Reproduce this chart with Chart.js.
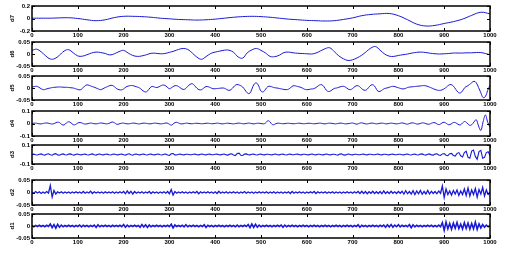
<!DOCTYPE html>
<html>
<head>
<meta charset="utf-8">
<script src="https://cdn.jsdelivr.net/npm/chart.js@4.4.1/dist/chart.umd.min.js"></script>
<style>
  body { margin: 0; background: #fff; }
  #wrap { position: relative; width: 514px; height: 253px; overflow: hidden; }
  #wrap canvas { position: absolute; left: 0; }
</style>
</head>
<body>
<div id="wrap"></div>
<script>
// sample index 0..1000, each detail level at its own step
const xTicks = [0, 100, 200, 300, 400, 500, 600, 700, 800, 900, 1000];

const d7Step = 20;
const d7 = [.005,.005,.005,.01,.012,0,-.02,-.035,-.02,.015,.035,.035,.03,.02,.005,-.005,-.015,-.02,-.025,-.02,
  -.01,.005,.02,.03,.035,.03,.02,.005,-.01,-.02,-.03,-.035,-.04,-.035,-.015,.01,.045,.065,.075,.08,
  .045,-.02,-.09,-.12,-.11,-.08,-.05,-.01,.05,.1,.075];

const d6Step = 10;
const d6 = [.015,.02,.009,-.008,-.021,-.019,-.005,.012,.018,.005,-.008,-.009,-.003,.004,.008,.006,.002,-.004,.001,.01,
  .015,.004,-.006,-.01,-.008,-.003,.003,.003,.001,.002,.007,.012,.019,.023,.019,.004,-.013,-.022,-.011,.002,
  .008,.012,.016,.016,.007,-.012,-.017,.005,.017,.023,.015,.004,-.01,-.011,-.005,.006,.008,.005,.003,.002,
  .001,0,.004,.013,.022,.026,.01,-.008,-.02,-.027,-.024,-.016,-.005,.01,.025,.031,.016,0,-.009,-.01,
  -.006,-.003,0,.004,.007,.008,.006,.003,.001,0,.001,.002,.004,.004,.004,.005,.005,.006,.006,.002,-.003];

const d5Step = 5;
const d5 = [.004,.006,.007,.003,-.003,-.007,-.005,-.002,0,.002,.003,.004,.004,.004,.003,.003,.002,.001,0,-.003,
  -.006,-.008,-.002,.008,.013,.011,.007,.004,0,-.004,-.007,-.003,.002,.006,.01,.011,.005,-.003,-.007,-.008,
  -.004,.004,.008,.01,.01,.007,.004,0,-.008,-.015,-.016,-.006,.005,.006,.002,.003,.008,.012,.011,.004,
  -.003,.002,.008,.01,.006,-.001,-.006,-.003,.007,.015,.018,.01,-.001,-.007,-.007,0,.006,.005,.001,-.003,
  -.003,-.002,-.001,0,-.001,-.006,-.01,-.006,.004,.013,.014,.01,.004,-.008,-.02,-.023,-.005,.016,.021,.008,
  -.013,-.016,-.005,.006,.007,.004,.001,0,-.002,-.004,-.006,-.007,-.005,.002,.009,.009,.006,.004,0,-.005,
  -.007,-.006,-.004,-.003,.002,.009,.014,.011,-.002,-.013,-.014,-.008,-.002,0,.003,.006,.007,.003,-.004,-.007,
  -.002,.006,.01,.006,-.003,-.009,-.008,.002,.012,.013,.002,-.013,-.014,-.008,-.002,0,.003,.006,.007,.004,
  .001,-.002,-.004,-.002,.002,.004,.005,.006,.007,.008,.009,.01,.009,.006,.002,-.002,-.006,-.009,-.01,-.008,
  -.003,.004,.012,.014,.008,-.005,-.017,-.021,-.012,.002,.008,.014,.022,.028,.022,.002,-.02,-.04,-.035,-.01,
  .012];

const d4Step = 5;
const d4 = [0,.003,.002,-.002,-.003,.001,.004,.003,-.002,-.004,
  .002,.01,.008,-.008,-.012,.004,.014,.006,-.01,-.008,
  .004,.008,.002,-.004,-.003,.002,.003,-.001,-.003,.001,
  .004,.002,-.002,-.002,.004,.012,.006,-.006,-.004,.002,
  .003,-.001,-.003,0,.003,.002,-.002,-.003,.001,.003,
  .001,-.002,-.002,.002,.003,0,-.003,-.001,.002,.004,
  -.006,-.013,.002,.01,.004,-.003,-.002,.002,.002,-.001,
  -.002,.001,.002,0,-.002,-.001,.002,.002,-.001,-.002,
  .001,.003,0,-.003,-.001,.002,.002,-.001,-.003,0,
  .003,.002,-.002,-.002,.002,.003,-.001,-.003,.001,.002,
  0,-.003,.004,.022,.012,-.01,-.006,.002,.002,-.001,
  -.002,.001,.002,0,-.002,-.001,.002,.002,-.001,-.002,
  .001,.002,0,-.002,-.001,.002,.003,-.001,-.003,.001,
  .003,.001,-.002,-.002,.002,.003,0,-.003,-.001,.002,
  .004,-.002,-.005,.002,.005,0,-.004,-.001,.003,.002,
  -.002,-.002,.002,.003,-.001,-.003,.001,.003,0,-.003,
  -.001,.003,.004,-.002,-.005,.001,.005,.002,-.004,-.003,
  .003,.005,-.001,-.006,-.002,.006,.006,-.005,-.008,.004,
  .01,0,-.01,-.004,.008,.006,-.006,-.012,.004,.016,
  .004,-.014,-.01,.012,.03,-.02,-.055,.015,.068,.01,
  -.03];

const d3Step = 4;
const d3 = [0,.004,-.002,-.005,.003,.006,-.002,-.006,.002,.007,
  -.003,-.008,.004,.009,-.004,-.008,.003,.006,-.002,-.005,
  .004,.006,-.003,-.006,.003,.005,-.002,-.004,.002,.004,
  -.003,-.005,.003,.006,-.002,-.006,.002,.005,-.003,-.004,
  .003,.004,-.002,-.005,.002,.005,-.003,-.004,.002,.004,
  -.002,-.006,.003,.007,-.002,-.007,.003,.005,-.003,-.004,
  .002,.004,-.003,-.005,.002,.004,-.002,-.004,.003,.005,
  -.002,-.005,.003,.005,-.006,-.01,.008,.01,-.004,-.005,
  .003,.004,-.002,-.004,.002,.003,-.002,-.003,.002,.004,
  -.003,-.004,.002,.005,-.002,-.004,.003,.004,-.002,-.003,
  .002,.004,-.003,-.004,.003,.005,-.004,-.006,.004,.008,
  -.006,-.012,.01,.014,-.008,-.01,.004,.006,-.003,-.004,
  .002,.004,-.003,-.005,.003,.004,-.002,-.004,.002,.003,
  -.003,-.004,.003,.005,-.002,-.004,.002,.004,-.003,-.005,
  .003,.004,-.002,-.003,.002,.004,-.003,-.004,.002,.003,
  -.002,-.004,.003,.005,-.003,-.004,.002,.003,-.002,-.004,
  .003,.005,-.002,-.004,.002,.003,-.003,-.006,.004,.007,
  -.004,-.007,.003,.005,-.002,-.004,.002,.003,-.002,-.003,
  .003,.004,-.002,-.004,.002,.003,-.002,-.003,.003,.004,
  -.002,-.004,.002,.003,-.003,-.004,.002,.004,-.002,-.003,
  .002,.003,-.003,-.004,.003,.005,-.003,-.005,.002,.004,
  -.003,-.005,.004,.006,-.003,-.006,.003,.006,-.004,-.007,
  .004,.008,-.005,-.009,.006,.01,-.008,-.012,.008,.012,
  -.01,-.016,.012,.02,-.014,-.026,.02,.034,-.03,-.04,
  .036,.046,-.02,-.05,.03,.044,-.04,-.03,.02,.03,
  -.01];

const d2Step = 4;
const d2 = [.002,-.003,.004,-.002,.003,-.004,.002,-.003,.004,-.002,
  .028,-.018,.008,-.006,.003,-.002,.003,-.003,.002,-.002,
  .002,-.003,.002,-.002,.003,-.002,.002,-.003,.004,-.003,
  .002,-.002,.005,-.004,.003,-.002,.002,-.002,.002,-.003,
  .003,-.002,.002,-.002,.003,-.003,.002,-.002,.003,-.002,
  .004,-.005,.006,-.004,.005,-.006,.004,-.003,.002,-.002,
  .003,-.003,.002,-.002,.004,-.004,.003,-.002,.002,-.003,
  .002,-.002,.003,-.003,.004,-.005,.012,-.01,.004,-.003,
  .002,-.002,.003,-.002,.002,-.003,.002,-.002,.003,-.002,
  .004,-.005,.003,-.002,.002,-.002,.003,-.002,.002,-.003,
  .003,-.004,.005,-.003,.002,-.002,.003,-.003,.002,-.002,
  .003,-.002,.002,-.003,.002,-.002,.004,-.003,.002,-.002,
  .002,-.003,.002,-.002,.003,-.002,.002,-.002,.003,-.003,
  .002,-.002,.003,-.003,.002,-.002,.002,-.003,.002,-.002,
  .003,-.004,.004,-.003,.002,-.002,.003,-.002,.002,-.003,
  .002,-.002,.003,-.002,.004,-.004,.003,-.002,.002,-.002,
  .003,-.003,.002,-.002,.003,-.003,.002,-.002,.002,-.003,
  .002,-.002,.003,-.002,.002,-.003,.003,-.002,.004,-.004,
  .005,-.004,.004,-.005,.003,-.003,.005,-.004,.003,-.004,
  .004,-.005,.006,-.004,.003,-.004,.005,-.003,.003,-.004,
  .004,-.003,.005,-.006,.007,-.005,.004,-.006,.007,-.008,
  .006,-.005,.008,-.007,.004,-.006,.008,-.006,.005,-.004,
  .004,-.005,.006,-.003,.026,-.02,.014,-.008,.006,-.01,
  .008,-.006,.01,-.012,.006,-.008,.014,-.012,.018,-.014,
  .01,-.008,.016,-.018,.012,-.006,.02,-.014,.01,-.008,
  .002];

const d1Step = 4;
const d1 = [.002,-.003,.002,-.002,.003,-.002,.002,-.003,.003,-.002,
  .008,-.007,.006,-.009,.007,-.005,.004,-.003,.002,-.002,
  .003,-.002,.002,-.003,.002,-.002,.004,-.004,.003,-.002,
  .002,-.003,.002,-.002,.004,-.006,.005,-.003,.002,-.002,
  .003,-.002,.002,-.003,.003,-.002,.002,-.002,.003,-.003,
  .006,-.005,.004,-.003,.002,-.002,.003,-.002,.002,-.005,
  .006,-.004,.005,-.006,.004,-.003,.002,-.002,.003,-.002,
  .002,-.003,.002,-.002,.003,-.003,.007,-.008,.004,-.002,
  .002,-.002,.003,-.004,.005,-.003,.002,-.002,.003,-.002,
  .002,-.003,.002,-.002,.005,-.006,.003,-.002,.002,-.003,
  .002,-.002,.003,-.002,.002,-.003,.002,-.002,.003,-.002,
  .002,-.003,.004,-.003,.002,-.002,.003,-.002,.006,-.007,
  .008,-.006,.007,-.005,.004,-.003,.002,-.002,.003,-.002,
  .002,-.003,.002,-.002,.003,-.002,.004,-.005,.004,-.003,
  .002,-.002,.003,-.002,.002,-.003,.002,-.002,.003,-.002,
  .002,-.003,.002,-.002,.003,-.002,.002,-.003,.002,-.002,
  .003,-.002,.002,-.003,.002,-.002,.003,-.002,.002,-.003,
  .002,-.002,.003,-.002,.002,-.003,.002,-.002,.005,-.005,
  .003,-.002,.002,-.003,.002,-.002,.003,-.002,.002,-.003,
  .003,-.002,.004,-.005,.005,-.004,.006,-.005,.004,-.003,
  .005,-.004,.003,-.002,.002,-.003,.006,-.007,.005,-.004,
  .003,-.002,.002,-.003,.002,-.002,.003,-.002,.003,-.003,
  .002,-.003,.004,-.003,.014,-.018,.016,-.012,.01,-.014,
  .012,-.009,.015,-.011,.008,-.012,.014,-.01,.012,-.013,
  .01,-.012,.016,-.014,.009,-.008,.006,-.005,.004,-.003,
  .002];

// panel layout (frame top / height in px), y range and line weight
const panels = [
  { name: "d7", vals: d7, step: d7Step, lim: 0.2,  top: 6,   h: 25, smooth: true,  lw: 1 },
  { name: "d6", vals: d6, step: d6Step, lim: 0.05, top: 42,  h: 24, smooth: true,  lw: 1 },
  { name: "d5", vals: d5, step: d5Step, lim: 0.05, top: 76,  h: 24, smooth: true,  lw: 1 },
  { name: "d4", vals: d4, step: d4Step, lim: 0.1,  top: 111, h: 25, smooth: true,  lw: 1 },
  { name: "d3", vals: d3, step: d3Step, lim: 0.1,  top: 145, h: 19, smooth: false, lw: 1.1 },
  { name: "d2", vals: d2, step: d2Step, lim: 0.05, top: 180, h: 25, smooth: false, lw: 1.3 },
  { name: "d1", vals: d1, step: d1Step, lim: 0.05, top: 214, h: 24, smooth: false, lw: 1.6 }
];

const lineColor = "rgb(25, 25, 215)";
const tickFont = { family: "'Liberation Sans', Arial, sans-serif", size: 6, weight: "bold" };

const framePlugin = {
  id: "frame",
  afterDraw(chart) {
    const { ctx, chartArea: a, scales } = chart;
    ctx.save();
    ctx.strokeStyle = "#000";
    ctx.lineWidth = 1;
    ctx.beginPath();
    scales.x.ticks.forEach(t => {
      const px = Math.round(scales.x.getPixelForValue(t.value)) + 0.5;
      ctx.moveTo(px, a.top); ctx.lineTo(px, a.top + 3);
      ctx.moveTo(px, a.bottom); ctx.lineTo(px, a.bottom - 3);
    });
    scales.y.ticks.forEach(t => {
      const py = Math.round(scales.y.getPixelForValue(t.value)) + 0.5;
      ctx.moveTo(a.left, py); ctx.lineTo(a.left + 3, py);
      ctx.moveTo(a.right, py); ctx.lineTo(a.right - 3, py);
    });
    ctx.stroke();
    ctx.lineWidth = 1.5;
    ctx.strokeRect(a.left, a.top, a.right - a.left, a.bottom - a.top);
    ctx.restore();
  }
};

function drawPanel(p) {
  const c = document.createElement("canvas");
  c.width = 514;
  c.height = p.h + 16;
  c.style.top = (p.top - 6) + "px";
  document.getElementById("wrap").appendChild(c);

  new Chart(c.getContext("2d"), {
    type: "line",
    data: {
      datasets: [{
        data: p.vals.map((v, i) => ({ x: i * p.step, y: v })),
        borderColor: lineColor,
        borderWidth: p.lw,
        pointRadius: 0,
        tension: p.smooth ? 0.4 : 0,
        fill: false
      }]
    },
    options: {
      responsive: false,
      animation: false,
      devicePixelRatio: 1,
      layout: { padding: { top: 6, right: 24, left: 0, bottom: 0 } },
      plugins: { legend: { display: false }, tooltip: { enabled: false } },
      scales: {
        x: {
          type: "linear", min: 0, max: 1000,
          afterBuildTicks: s => { s.ticks = xTicks.map(v => ({ value: v })); },
          afterFit: s => { s.height = 10; },
          grid: { display: false, drawTicks: false },
          border: { display: false },
          ticks: { padding: 1, font: tickFont, color: "#000", maxRotation: 0, autoSkip: false, callback: v => String(v) }
        },
        y: {
          min: -p.lim, max: p.lim,
          afterBuildTicks: s => { s.ticks = [-p.lim, 0, p.lim].map(v => ({ value: v })); },
          afterFit: s => { s.width = 32; },
          grid: { display: false, drawTicks: false },
          border: { display: false },
          ticks: { padding: 2, font: tickFont, color: "#000", callback: v => String(v) },
          title: { display: true, text: p.name, font: tickFont, color: "#000", padding: { top: 9, bottom: 0 } }
        }
      }
    },
    plugins: [framePlugin]
  });
}

panels.forEach(drawPanel);
</script>
</body>
</html>
